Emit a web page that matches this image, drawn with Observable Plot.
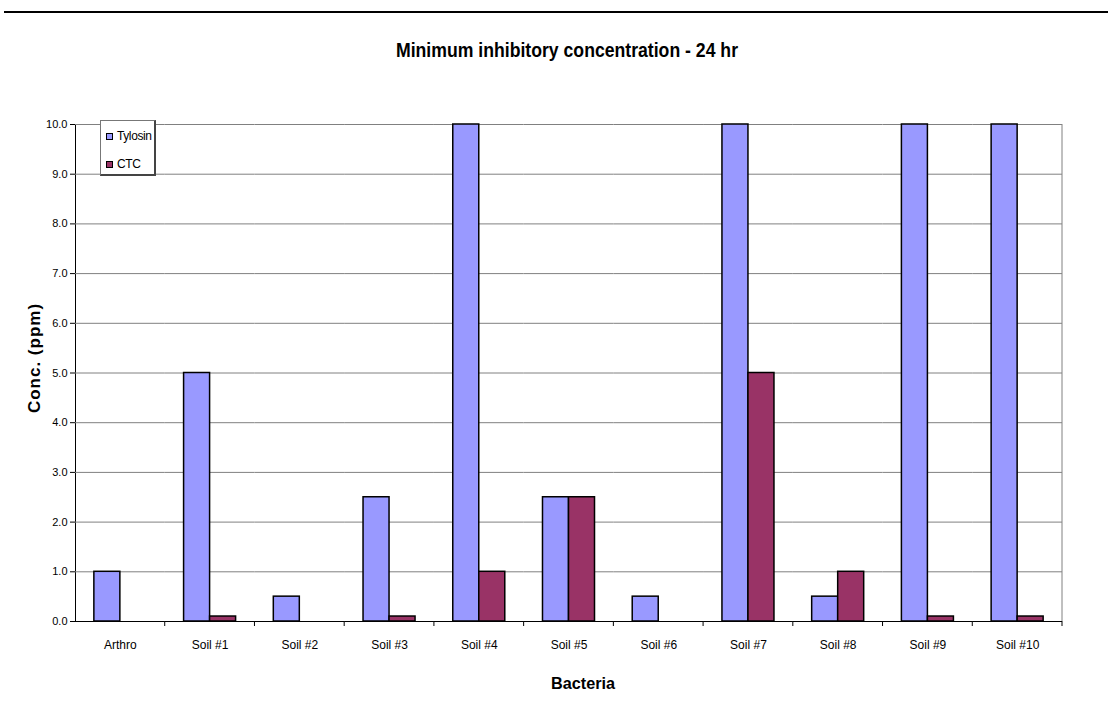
<!DOCTYPE html>
<html><head><meta charset="utf-8">
<script src="https://cdn.jsdelivr.net/npm/d3@7"></script>
<script src="https://cdn.jsdelivr.net/npm/@observablehq/plot@0.6"></script>
<style>
body{margin:0;background:#fff;font-family:"Liberation Sans",Arial,sans-serif;}
#wrap{position:relative;width:1112px;height:711px;overflow:hidden;}
#rule{position:absolute;left:4px;right:4px;top:11px;height:2px;background:#000;}
#title{position:absolute;top:38px;left:567px;white-space:nowrap;font-weight:bold;font-size:21px;line-height:24px;transform-origin:0 0;}
#ylabel{position:absolute;left:35px;top:358px;white-space:nowrap;font-weight:bold;font-size:17px;letter-spacing:1px;transform:translate(-50%,-50%) rotate(-90deg);}
#xlabel{position:absolute;left:583px;top:674px;white-space:nowrap;font-weight:bold;font-size:16px;line-height:20px;transform-origin:0 0;}
#chart{position:absolute;top:100px;left:0;}
#legend{position:absolute;left:100px;top:120px;width:56px;height:56px;box-sizing:border-box;border:1px solid #777;border-right:2px solid #444;border-bottom:2px solid #444;background:#fff;font-size:12px;letter-spacing:-0.4px;}
.item{position:absolute;left:5px;display:flex;align-items:center;height:14px;}
.sw{width:5px;height:5px;border:1px solid #000;margin-right:4px;}
g[aria-label="y-axis tick label"] text{font-size:11px;}
</style>
</head><body>
<div id="wrap">
  <div id="rule"></div>
  <div id="title">Minimum inhibitory concentration - 24 hr</div>
  <div id="chart"></div>
  <div id="ylabel">Conc. (ppm)</div>
  <div id="xlabel">Bacteria</div>
  <div id="legend"></div>
</div>
<script>
const categories = ["Arthro","Soil #1","Soil #2","Soil #3","Soil #4","Soil #5","Soil #6","Soil #7","Soil #8","Soil #9","Soil #10"];
const series = ["Tylosin","CTC"];
const tylosin = [1.0, 5.0, 0.5, 2.5, 10.0, 2.5, 0.5, 10.0, 0.5, 10.0, 10.0];
const ctc     = [0.0, 0.1, 0.0, 0.1, 1.0, 2.5, 0.0, 5.0, 1.0, 0.1, 0.1];
const colors = ["#9999FF","#993366"];
const yTicks = [0,1,2,3,4,5,6,7,8,9,10];

const rows = [];
categories.forEach((c,i)=>{
  rows.push({bacteria:c, series:"Tylosin", value:tylosin[i]});
  rows.push({bacteria:c, series:"CTC", value:ctc[i]});
});

// condensed look for title and x label, fitted to the reference widths
function fit(id, w){
  const el = document.getElementById(id);
  const k = w / el.getBoundingClientRect().width;
  el.style.transform = `scaleX(${k}) translateX(-50%)`;
}
fit("title", 342);
fit("xlabel", 64);

const plot = Plot.plot({
  width:1112, height:611,
  marginTop:24, marginBottom:90, marginLeft:75, marginRight:50,
  style:{fontFamily:'"Liberation Sans",Arial,sans-serif', fontSize:"12px", color:"#000", background:"#fff"},
  fx:{domain:categories, padding:0, round:false, axis:"bottom", label:null, tickSize:0, tickPadding:19},
  x:{domain:series, axis:null, round:false, paddingInner:0, paddingOuter:0.725},
  y:{domain:[0,10], ticks:yTicks, tickFormat:d=>d.toFixed(1), tickSize:5, tickPadding:3, label:null, line:true},
  color:{domain:series, range:colors},
  marks:[
    Plot.ruleY(yTicks.filter(t=>t>0), {stroke:"#808080", strokeOpacity:1}),
    Plot.barY(rows, {fx:"bacteria", x:"series", y:"value", fill:"series", stroke:"#000", strokeWidth:1.5}),
    Plot.ruleY([0], {stroke:"#000", strokeWidth:1.2})
  ]
});
document.getElementById("chart").appendChild(plot);

// category boundary ticks and right border from the fx scale
const svgEl = plot.tagName.toLowerCase()==="svg" ? plot : plot.querySelector("svg");
const fx = plot.scale("fx"), ys = plot.scale("y");
const y0 = ys.apply(0), y10 = ys.apply(10);
const bounds = categories.map(c=>fx.apply(c)).concat([fx.apply(categories[categories.length-1]) + fx.step]);
const g = d3.select(svgEl).append("g");
g.selectAll("line.b").data(bounds.slice(1)).join("line")
  .attr("x1",d=>d).attr("x2",d=>d).attr("y1",y0).attr("y2",y0+5).attr("stroke","#000");
const xr = bounds[bounds.length-1];
g.append("line").attr("x1",xr).attr("x2",xr).attr("y1",y10).attr("y2",y0).attr("stroke","#808080");

// legend
const lg = document.getElementById("legend");
series.forEach((s,i)=>{
  const it = document.createElement("div");
  it.className="item"; it.style.top = (8 + i*28) + "px";
  it.innerHTML = `<span class="sw" style="background:${colors[i]}"></span><span>${s}</span>`;
  lg.appendChild(it);
});
</script>
</body></html>
